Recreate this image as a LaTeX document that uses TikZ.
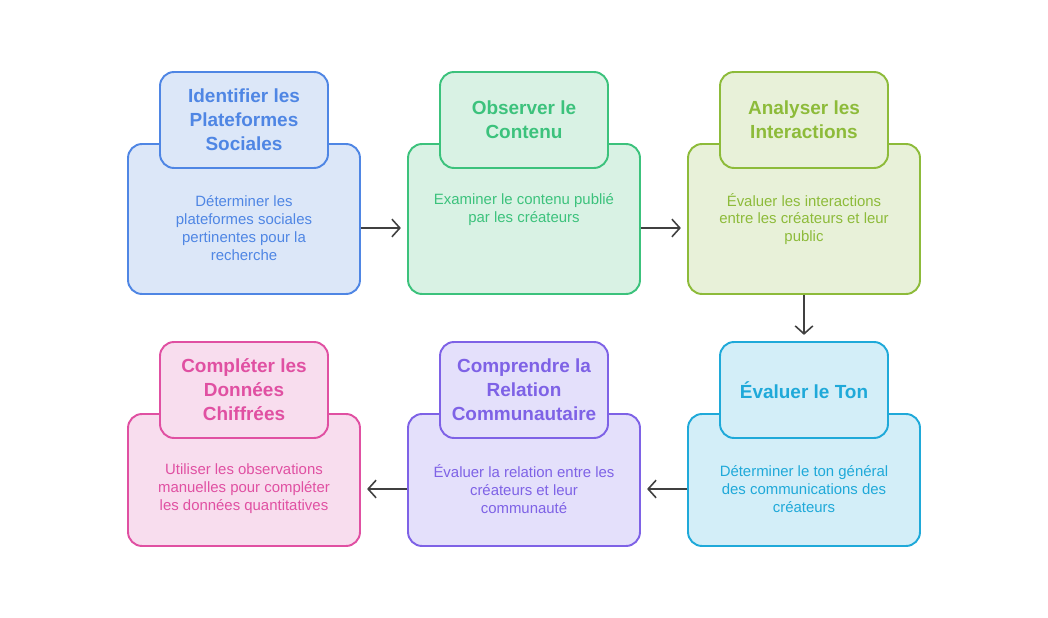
\documentclass[tikz,border=0pt]{standalone}
\usepackage{fontspec}
\setmainfont{Liberation Sans}
\usetikzlibrary{arrows.meta}
\definecolor{cBlueD}{HTML}{4F86E4}\definecolor{cBlueL}{HTML}{DCE7F8}
\definecolor{cGrnD}{HTML}{3CC27C}\definecolor{cGrnL}{HTML}{D9F2E4}
\definecolor{cOlvD}{HTML}{8DBB3A}\definecolor{cOlvL}{HTML}{E8F1D9}
\definecolor{cCyaD}{HTML}{1FA9D9}\definecolor{cCyaL}{HTML}{D3EEF8}
\definecolor{cPurD}{HTML}{7E62E6}\definecolor{cPurL}{HTML}{E4E0FB}
\definecolor{cPnkD}{HTML}{E050A2}\definecolor{cPnkL}{HTML}{F8DDEE}
\definecolor{cArr}{HTML}{404040}
\tikzset{
  bigbox/.style={draw=#1D, fill=#1L, line width=1.1pt, rounded corners=0.28cm,
    minimum width=4.64cm, inner sep=0pt},
  titlebox/.style={draw=#1D, fill=#1L, line width=1.1pt, rounded corners=0.28cm,
    minimum width=3.36cm, minimum height=1.92cm, inner sep=0pt, text=#1D,
    align=center, font=\fontsize{10.8}{13.6}\selectfont\bfseries},
  bodytext/.style={text=#1D, align=center,
    font=\fontsize{8.5}{10.2}\selectfont},
  flow/.style={draw=cArr, line width=0.9pt, -{Straight Barb[length=4.5pt,width=10pt]}, shorten >=3.5pt}
}
\begin{document}
\begin{tikzpicture}[x=0.02cm,y=-0.02cm]
\useasboundingbox (0,0) rectangle (1048,618);
% row 1
\node[bigbox=cBlue, minimum height=3cm] (b1) at (244,219) {};
\node[titlebox=cBlue] (t1) at (244,120) {Identifier les\\Plateformes\\Sociales};
\node[bodytext=cBlue] (d1) at (244,228) {Déterminer les\\plateformes sociales\\pertinentes pour la\\recherche};
\node[bigbox=cGrn, minimum height=3cm] (b2) at (524,219) {};
\node[titlebox=cGrn] (t2) at (524,120) {Observer le\\Contenu};
\node[bodytext=cGrn] (d2) at (524,210) {Examiner le contenu publié\\par les créateurs};
\node[bigbox=cOlv, minimum height=3cm] (b3) at (804,219) {};
\node[titlebox=cOlv] (t3) at (804,120) {Analyser les\\Interactions};
\node[bodytext=cOlv] (d3) at (804,219) {Évaluer les interactions\\entre les créateurs et leur\\public};
% row 2
\node[bigbox=cCya, minimum height=2.64cm] (b4) at (804,480) {};
\node[titlebox=cCya] (t4) at (804,390) {Évaluer le Ton};
\node[bodytext=cCya] (d4) at (804,489) {Déterminer le ton général\\des communications des\\créateurs};
\node[bigbox=cPur, minimum height=2.64cm] (b5) at (524,480) {};
\node[titlebox=cPur] (t5) at (524,390) {Comprendre la\\Relation\\Communautaire};
\node[bodytext=cPur] (d5) at (524,489) {Évaluer la relation entre les\\créateurs et leur\\communauté};
\node[bigbox=cPnk, minimum height=2.64cm] (b6) at (244,480) {};
\node[titlebox=cPnk] (t6) at (244,390) {Compléter les\\Données\\Chiffrées};
\node[bodytext=cPnk] (d6) at (244,489) {Utiliser les observations\\manuelles pour compléter\\les données quantitatives};
% connectors
\draw[flow] (b1.east |- 0,228) -- (b2.west |- 0,228);
\draw[flow] (b2.east |- 0,228) -- (b3.west |- 0,228);
\draw[flow] (b3.south) -- (t4.north);
\draw[flow] (b4.west |- 0,489) -- (b5.east |- 0,489);
\draw[flow] (b5.west |- 0,489) -- (b6.east |- 0,489);
\end{tikzpicture}
\end{document}
